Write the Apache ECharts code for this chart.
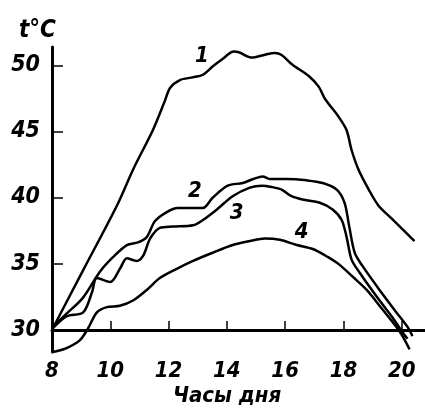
<!DOCTYPE html>
<html><head><meta charset="utf-8">
<script src="https://cdn.jsdelivr.net/npm/echarts@6/dist/echarts.min.js"></script>
<style>html,body{margin:0;padding:0;background:#fff}#c{width:425px;height:412px}</style>
</head><body><div id="c"></div>
<script>
// Curve 1
const hours1 = [8.03,9.07,10.23,10.8,11.46,11.87,12.05,12.39,12.83,13.18,13.5,13.83,14.24,14.41,14.86,15.27,15.65,15.88,16.23,16.81,17.15,17.36,17.84,18.11,18.28,18.52,18.87,19.2,19.66,20.44];
const temps1 = [30.1,34.5,39.4,42.2,45.1,47.3,48.3,48.9,49.1,49.3,49.9,50.45,51.05,51.0,50.6,50.8,50.95,50.8,50.1,49.2,48.4,47.5,46.1,45.1,43.6,42.1,40.6,39.4,38.4,36.7];
// Curve 2
const hours2 = [8.03,8.5,9.06,9.65,10.1,10.57,10.95,11.25,11.53,11.94,12.32,12.9,13.18,13.52,14.03,14.55,14.9,15.23,15.47,16.05,16.74,17.29,17.77,18.04,18.2,18.39,18.66,19.24,19.82,20.2,20.37];
const temps2 = [30.2,31.2,32.4,34.4,35.5,36.4,36.6,37.0,38.2,38.9,39.2,39.2,39.2,40.0,40.9,41.1,41.4,41.6,41.4,41.4,41.3,41.1,40.6,39.6,37.8,35.8,34.8,33.0,31.3,30.2,29.5];
// Curve 3
const hours3 = [8.03,8.5,9.07,9.37,9.54,10.0,10.33,10.57,10.9,11.13,11.37,11.7,12.15,12.84,13.18,13.66,14.2,14.79,15.2,15.54,15.88,16.22,16.6,17.19,17.63,17.94,18.11,18.28,18.56,19.14,19.69,20.03,20.2];
const temps3 = [30.1,31.0,31.3,32.8,33.9,33.6,34.6,35.4,35.2,35.6,36.9,37.7,37.8,37.9,38.3,39.1,40.1,40.75,40.9,40.8,40.6,40.1,39.85,39.6,39.1,38.3,37.0,35.3,34.3,32.5,30.9,29.8,29.3];
// Curve 4
const hours4 = [8.03,8.5,8.96,9.24,9.54,9.88,10.33,10.78,11.25,11.7,12.28,12.84,13.49,14.2,14.79,15.3,15.82,16.4,16.95,17.46,17.87,18.32,18.8,19.35,19.82,20.03,20.27];
const temps4 = [28.3,28.6,29.2,30.1,31.3,31.7,31.8,32.2,33.0,33.9,34.6,35.2,35.8,36.4,36.7,36.9,36.8,36.4,36.1,35.5,34.9,34.0,33.0,31.5,30.2,29.5,28.5];

const xTickLabels = [8,10,12,14,16,18,20];
const xTickMarks = [10,12,14,16,18,20];
const yTickLabels = [30,35,40,45,50];
const curveNames = ['1','2','3','4'];
const labelHours = [13.14,12.9,14.34,16.57];
const labelTemps = [50.7,40.45,38.8,37.4];
const yAxisTitle = 't°C';
const xAxisTitle = 'Часы дня';

const FONT = "'DejaVu Sans Condensed','Liberation Sans Narrow','DejaVu Sans',sans-serif";
const zip = (a,b) => a.map((v,i)=>[v,b[i]]);
const curves = [[hours1,temps1],[hours2,temps2],[hours3,temps3],[hours4,temps4]];

const chart = echarts.init(document.getElementById('c'));
chart.setOption({
  animation:false,
  backgroundColor:'#fff',
  title:[
    {text:yAxisTitle,left:14,top:14,textStyle:{fontFamily:FONT,fontStyle:'italic',fontWeight:'bold',fontSize:24,color:'#000'}},
    {text:xAxisTitle,left:168,top:380,textStyle:{fontFamily:FONT,fontStyle:'italic',fontWeight:'bold',fontSize:22,color:'#000'}}
  ],
  grid:{left:52,right:0,top:47,bottom:60,containLabel:false},
  xAxis:{type:'value',min:8,max:20.8,interval:2,offset:-22,
    axisLine:{lineStyle:{color:'#000',width:3}},
    axisTick:{inside:true,length:9,lineStyle:{color:'#000',width:1.5},customValues:xTickMarks},
    axisLabel:{customValues:xTickLabels,margin:30,color:'#000',fontFamily:FONT,fontStyle:'italic',fontWeight:'bold',fontSize:22},
    splitLine:{show:false}},
  yAxis:{type:'value',min:28.3,max:51.4,
    axisLine:{show:true,lineStyle:{color:'#000',width:3}},
    axisTick:{inside:true,length:11,lineStyle:{color:'#000',width:1.5},customValues:yTickLabels},
    axisLabel:{customValues:yTickLabels,margin:12,color:'#000',fontFamily:FONT,fontStyle:'italic',fontWeight:'bold',fontSize:23},
    splitLine:{show:false}},
  series: curves.map((c,i)=>({
    type:'line',name:curveNames[i],data:zip(c[0],c[1]),smooth:0.3,symbol:'none',
    lineStyle:{color:'#000',width:2.5}
  })).concat([{
    type:'scatter',symbolSize:0,itemStyle:{opacity:1,color:'#000'},
    data:labelHours.map((h,i)=>({value:[h,labelTemps[i]],name:curveNames[i]})),
    label:{show:true,position:'inside',formatter:p=>p.name,color:'#000',opacity:1,fontFamily:FONT,fontStyle:'italic',fontWeight:'bold',fontSize:22}
  }])
});
</script></body></html>
